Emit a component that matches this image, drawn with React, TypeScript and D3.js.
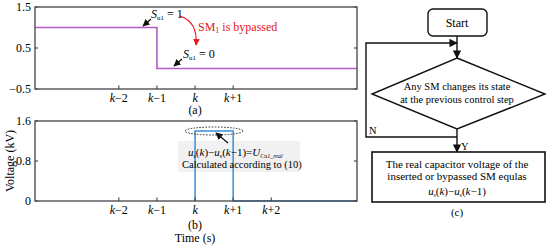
import React from "react";
import { scaleLinear, line } from "d3";

// time axis, in control steps relative to k
const xDomain = [-4.2, 4.25];
const stepTicksA = [-2, -1, 0, 1];
const stepTicksB = [-2, -1, 0, 1, 2];

// (a) switching state of SM1
const yTicksA = [-0.5, 0.5, 1.5];
const stateTime = [-4.2, -1, -1, 4.25];
const stateValue = [1, 1, 0, 0];

// (b) calculated capacitor voltage (kV)
const yTicksB = [0, 0.8, 1.6];
const voltTime = [0, 0, 1, 1, 4.25];
const voltValue = [0, 1.4, 1.4, 0, 0];

const FONT = "'Liberation Serif', 'Times New Roman', serif";
const W = 550;
const H = 246;
const plotLeft = 35;
const plotRight = 357;

function stepLabel(s: number) {
  if (s === 0) return "k";
  return s < 0 ? `k\u2212${-s}` : `k+${s}`;
}

function Frame({ y0, y1, y, ticksX, ticksY, fmt }: any) {
  const x = scaleLinear().domain(xDomain).range([plotLeft, plotRight]);
  return (
    <g>
      {ticksY.map((t: number) => (
        <g key={t}>
          <line x1={plotLeft} x2={plotLeft + 3} y1={y(t)} y2={y(t)} stroke="#333" />
          <line x1={plotRight} x2={plotRight - 3} y1={y(t)} y2={y(t)} stroke="#333" />
          <text x={plotLeft - 4} y={y(t) + 4} textAnchor="end" fontSize={12} fontFamily={FONT}>
            {fmt(t)}
          </text>
        </g>
      ))}
      {ticksX.map((t: number) => (
        <g key={t}>
          <line x1={x(t)} x2={x(t)} y1={y1} y2={y1 - 3.5} stroke="#333" />
          <text x={x(t)} y={y1 + 12.5} textAnchor="middle" fontSize={12} fontFamily={FONT}>
            <tspan fontStyle="italic">{stepLabel(t).slice(0, 1)}</tspan>
            {stepLabel(t).slice(1)}
          </text>
        </g>
      ))}
      <rect x={plotLeft} y={y0} width={plotRight - plotLeft} height={y1 - y0} fill="none" stroke="#444" strokeWidth={1.3} />
    </g>
  );
}

export default function App() {
  const x = scaleLinear().domain(xDomain).range([plotLeft, plotRight]);
  const yA = scaleLinear().domain([-0.5, 1.5]).range([89, 7]);
  const yB = scaleLinear().domain([0, 1.6]).range([201, 121]);

  const stateLine = line<number>()
    .x((_, i) => x(stateTime[i]))
    .y((d) => yA(d))(stateValue);
  const voltLine = line<number>()
    .x((_, i) => x(voltTime[i]))
    .y((d) => yB(d))(voltValue);

  const fmtA = (t: number) => (t < 0 ? `\u2212${-t}` : String(t));
  const fmtB = (t: number) => String(t);

  // flowchart geometry
  const cx = 457;
  const dTop = 58, dBot = 129, dMid = 94, dL = 372, dR = 545;
  const loopY = 137, loopX = 366, entryY = 43;

  return (
    <svg width={W} height={H} style={{ position: "absolute", left: 0, top: 0 }}>
      <defs>
        <marker id="ah" viewBox="0 0 10 10" refX="9" refY="5" markerWidth="6" markerHeight="6" orient="auto">
          <path d="M0,0 L10,5 L0,10 z" fill="#111" />
        </marker>
        <marker id="ahr" viewBox="0 0 10 10" refX="9" refY="5" markerWidth="6" markerHeight="6" orient="auto">
          <path d="M0,0 L10,5 L0,10 z" fill="#e8141b" />
        </marker>
      </defs>
      <rect width={W} height={H} fill="#fff" />

      {/* (a) */}
      <path d={stateLine ?? ""} fill="none" stroke="#b35ac4" strokeWidth={1.6} />
      <Frame y0={7} y1={89} y={yA} ticksX={stepTicksA} ticksY={yTicksA} fmt={fmtA} />
      <text x={x(0)} y={114} textAnchor="middle" fontSize={12} fontFamily={FONT}>(a)</text>

      <text x={151} y={18} fontSize={12} fontFamily={FONT}>
        <tspan fontStyle="italic">S</tspan>
        <tspan fontSize={7} dy={2}>u1</tspan>
        <tspan dy={-2}> = 1</tspan>
      </text>
      <line x1={151} y1={19} x2={143} y2={26} stroke="#111" strokeWidth={1.2} markerEnd="url(#ah)" />
      <text x={183} y={58} fontSize={12} fontFamily={FONT}>
        <tspan fontStyle="italic">S</tspan>
        <tspan fontSize={7} dy={2}>u1</tspan>
        <tspan dy={-2}> = 0</tspan>
      </text>
      <line x1={182} y1={59} x2={174} y2={66} stroke="#111" strokeWidth={1.2} markerEnd="url(#ah)" />
      <path d="M180,16 Q198,22 196,45" fill="none" stroke="#e8141b" strokeWidth={1.1} markerEnd="url(#ahr)" />
      <text x={198} y={31} fontSize={12} fill="#e8141b" fontFamily={FONT}>
        SM<tspan fontSize={8} dy={2}>1</tspan>
        <tspan dy={-2}> is bypassed</tspan>
      </text>

      {/* (b) */}
      <rect x={178} y={141} width={122} height={31} fill="#f1f1f1" />
      <path d={voltLine ?? ""} fill="none" stroke="#3b8ed8" strokeWidth={1.5} />
      <Frame y0={121} y1={201} y={yB} ticksX={stepTicksB} ticksY={yTicksB} fmt={fmtB} />
      <ellipse cx={214} cy={131} rx={29} ry={4} fill="none" stroke="#222" strokeWidth={1} strokeDasharray="1.5,1.5" />
      <line x1={228} y1={143} x2={216} y2={133} stroke="#111" strokeWidth={1.2} markerEnd="url(#ah)" />
      <text x={188} y={156} fontSize={11} fontFamily={FONT}>
        <tspan fontStyle="italic">u</tspan>
        <tspan fontSize={6} dy={2}>s</tspan>
        <tspan dy={-2}>(</tspan>
        <tspan fontStyle="italic">k</tspan>
        <tspan>){"\u2212"}</tspan>
        <tspan fontStyle="italic">u</tspan>
        <tspan fontSize={6} dy={2}>s</tspan>
        <tspan dy={-2}>(</tspan>
        <tspan fontStyle="italic">k</tspan>
        <tspan>{"\u2212"}1)=</tspan>
        <tspan fontStyle="italic">U</tspan>
        <tspan fontSize={6} dy={2} fontStyle="italic">Cu1_real</tspan>
      </text>
      <text x={182} y={168} fontSize={10.5} fontFamily={FONT}>Calculated according to (10)</text>
      <text x={x(0)} y={229} textAnchor="middle" fontSize={12} fontFamily={FONT}>(b)</text>
      <text x={x(0)} y={242} textAnchor="middle" fontSize={12} fontFamily={FONT}>Time (s)</text>
      <text transform={`translate(14,${yB(0.8)}) rotate(-90)`} textAnchor="middle" fontSize={12} fontFamily={FONT}>Voltage (kV)</text>

      {/* (c) flowchart */}
      <rect x={428} y={9} width={59} height={27} rx={5} fill="#fff" stroke="#111" strokeWidth={1.4} />
      <text x={cx} y={27} textAnchor="middle" fontSize={12} fontFamily={FONT}>Start</text>
      <line x1={cx} y1={36} x2={cx} y2={dTop} stroke="#111" strokeWidth={1.4} markerEnd="url(#ah)" />
      <polygon points={`${cx},${dTop} ${dR},${dMid} ${cx},${dBot} ${dL},${dMid}`} fill="#fff" stroke="#111" strokeWidth={1.4} />
      <text x={cx} y={90} textAnchor="middle" fontSize={10.5} fontFamily={FONT}>Any SM changes its state</text>
      <text x={cx} y={103} textAnchor="middle" fontSize={10.5} fontFamily={FONT}>at the previous control step</text>
      <polyline points={`${cx},${loopY} ${loopX},${loopY} ${loopX},${entryY} ${cx},${entryY}`} fill="none" stroke="#111" strokeWidth={1.4} markerEnd="url(#ah)" />
      <line x1={cx} y1={dBot} x2={cx} y2={152} stroke="#111" strokeWidth={1.4} markerEnd="url(#ah)" />
      <text x={369} y={134} fontSize={10.5} fontFamily={FONT}>N</text>
      <text x={461} y={150} fontSize={10.5} fontFamily={FONT}>Y</text>
      <rect x={372} y={152} width={173} height={50} fill="#fff" stroke="#111" strokeWidth={1.6} />
      <text x={cx} y={168} textAnchor="middle" fontSize={11} fontFamily={FONT}>The real capacitor voltage of the</text>
      <text x={cx} y={180} textAnchor="middle" fontSize={11} fontFamily={FONT}>inserted or bypassed SM equlas</text>
      <text x={cx} y={195} textAnchor="middle" fontSize={11} fontFamily={FONT}>
        <tspan fontStyle="italic">u</tspan>
        <tspan fontSize={5.5} dy={2}>s</tspan>
        <tspan dy={-2}>(</tspan>
        <tspan fontStyle="italic">k</tspan>
        <tspan>){"\u2212"}</tspan>
        <tspan fontStyle="italic">u</tspan>
        <tspan fontSize={5.5} dy={2}>s</tspan>
        <tspan dy={-2}>(</tspan>
        <tspan fontStyle="italic">k</tspan>
        <tspan>{"\u2212"}1)</tspan>
      </text>
      <text x={cx} y={216} textAnchor="middle" fontSize={11} fontFamily={FONT}>(c)</text>
    </svg>
  );
}
